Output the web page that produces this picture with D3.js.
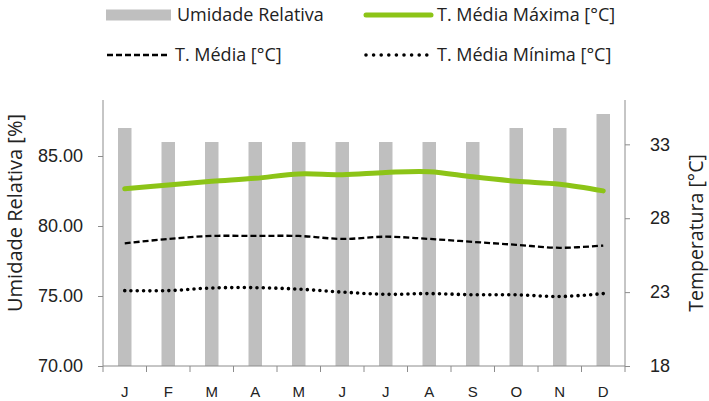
<!doctype html>
<html>
<head>
<meta charset="UTF-8" />
<script src="https://cdn.jsdelivr.net/npm/d3@7"></script>
<style>
  body { margin: 0; background: #fff; }
  svg { display: block; font-family: "Open Sans", sans-serif; }
  .axis path, .axis line { stroke: #8c8c8c; }
  .axis text { fill: #222; }
</style>
</head>
<body>
<svg id="chart" width="709" height="401"></svg>
<script>
  // chart data
  const months = ["J", "F", "M", "A", "M", "J", "J", "A", "S", "O", "N", "D"];
  const umidade = [87, 86, 86, 86, 86, 86, 86, 86, 86, 87, 87, 88];
  const tMaxima = [30.0, 30.25, 30.5, 30.7, 31.0, 30.95, 31.1, 31.15, 30.8, 30.5, 30.3, 29.85];
  const tMedia = [26.3, 26.6, 26.8, 26.8, 26.8, 26.6, 26.75, 26.6, 26.4, 26.2, 26.0, 26.15];
  const tMinima = [23.1, 23.1, 23.28, 23.3, 23.2, 23.0, 22.85, 22.9, 22.82, 22.82, 22.7, 22.9];
  const umidadeTicks = [70, 75, 80, 85];
  const tempTicks = [18, 23, 28, 33];

  const svg = d3.select("#chart");
  const plotL = 103, plotR = 625, plotT = 100, plotB = 366;
  const green = "#8cc417";

  // index based band scale, labels come from months
  const x = d3.scaleBand()
    .domain(d3.range(months.length))
    .range([plotL, plotR])
    .paddingInner(0.69)
    .paddingOuter(0.345);
  const yL = d3.scaleLinear().domain([70, 89]).range([plotB, plotT]);
  const yR = d3.scaleLinear().domain([18, 36]).range([plotB, plotT]);
  const cx = i => x(i) + x.bandwidth() / 2;

  // bars
  svg.append("g").selectAll("rect")
    .data(umidade)
    .join("rect")
    .attr("x", (d, i) => x(i))
    .attr("y", d => yL(d))
    .attr("width", x.bandwidth())
    .attr("height", d => yL(70) - yL(d))
    .attr("fill", "#bfbfbf");

  // lines
  const line = d3.line()
    .x((d, i) => cx(i))
    .y(d => yR(d))
    .curve(d3.curveCatmullRom.alpha(0.5));

  svg.append("path").datum(tMedia)
    .attr("d", line)
    .attr("fill", "none")
    .attr("stroke", "#000")
    .attr("stroke-width", 2.3)
    .attr("stroke-dasharray", "6,3");

  svg.append("path").datum(tMinima)
    .attr("d", line)
    .attr("fill", "none")
    .attr("stroke", "#000")
    .attr("stroke-width", 3.6)
    .attr("stroke-linecap", "round")
    .attr("stroke-dasharray", "0,6.3");

  svg.append("path").datum(tMaxima)
    .attr("d", line)
    .attr("fill", "none")
    .attr("stroke", green)
    .attr("stroke-width", 5)
    .attr("stroke-linecap", "round");

  // left axis
  const gL = svg.append("g")
    .attr("class", "axis")
    .attr("transform", `translate(${plotL},0)`)
    .call(d3.axisLeft(yL).tickValues(umidadeTicks).tickFormat(d3.format(".2f"))
      .tickSizeInner(5).tickSizeOuter(0).tickPadding(15));
  gL.select(".domain").attr("d", `M0,${plotT}V${plotB + 6}`);
  gL.selectAll("text").style("font-size", "18px");

  // right axis
  const gR = svg.append("g")
    .attr("class", "axis")
    .attr("transform", `translate(${plotR},0)`)
    .call(d3.axisRight(yR).tickValues(tempTicks)
      .tickSizeInner(5).tickSizeOuter(0).tickPadding(20));
  gR.select(".domain").attr("d", `M0,${plotT}V${plotB + 6}`);
  gR.selectAll("text").style("font-size", "18px");

  // bottom axis: labels at band centres, ticks between bands
  const gB = svg.append("g")
    .attr("class", "axis")
    .attr("transform", `translate(0,${plotB})`)
    .call(d3.axisBottom(x).tickFormat(i => months[i]).tickSize(0).tickPadding(20));
  gB.select(".domain").attr("d", `M${plotL},0H${plotR}`);
  gB.selectAll("text").style("font-size", "15px");
  gB.selectAll("line.sep")
    .data(d3.range(1, months.length))
    .join("line")
    .attr("class", "sep")
    .attr("x1", i => x(i) - (x.step() - x.bandwidth()) / 2)
    .attr("x2", i => x(i) - (x.step() - x.bandwidth()) / 2)
    .attr("y1", 0)
    .attr("y2", 6);

  // axis titles
  svg.append("text")
    .attr("transform", "translate(22,213) rotate(-90)")
    .attr("text-anchor", "middle")
    .style("font-size", "20px")
    .attr("fill", "#222")
    .text("Umidade Relativa [%]");
  svg.append("text")
    .attr("transform", "translate(703,233) rotate(-90)")
    .attr("text-anchor", "middle")
    .style("font-size", "19.5px")
    .attr("fill", "#222")
    .text("Temperatura [°C]");

  // legend
  const legend = svg.append("g").style("font-size", "18px").attr("fill", "#222");
  legend.append("rect").attr("x", 106).attr("y", 9.5).attr("width", 65).attr("height", 11).attr("fill", "#bfbfbf");
  legend.append("text").attr("x", 177).attr("y", 15).attr("dy", "0.35em").text("Umidade Relativa");
  legend.append("line").attr("x1", 366).attr("x2", 431).attr("y1", 15).attr("y2", 15)
    .attr("stroke", green).attr("stroke-width", 5).attr("stroke-linecap", "round");
  legend.append("text").attr("x", 437).attr("y", 15).attr("dy", "0.35em").text("T. Média Máxima [°C]");
  legend.append("line").attr("x1", 107).attr("x2", 168).attr("y1", 55).attr("y2", 55)
    .attr("stroke", "#000").attr("stroke-width", 2.4).attr("stroke-dasharray", "6,3");
  legend.append("text").attr("x", 175).attr("y", 55).attr("dy", "0.35em").text("T. Média [°C]");
  legend.append("line").attr("x1", 366).attr("x2", 427).attr("y1", 55).attr("y2", 55)
    .attr("stroke", "#000").attr("stroke-width", 3.6).attr("stroke-linecap", "round")
    .attr("stroke-dasharray", "0,7.6");
  legend.append("text").attr("x", 437).attr("y", 55).attr("dy", "0.35em").text("T. Média Mínima [°C]");
</script>
</body>
</html>
